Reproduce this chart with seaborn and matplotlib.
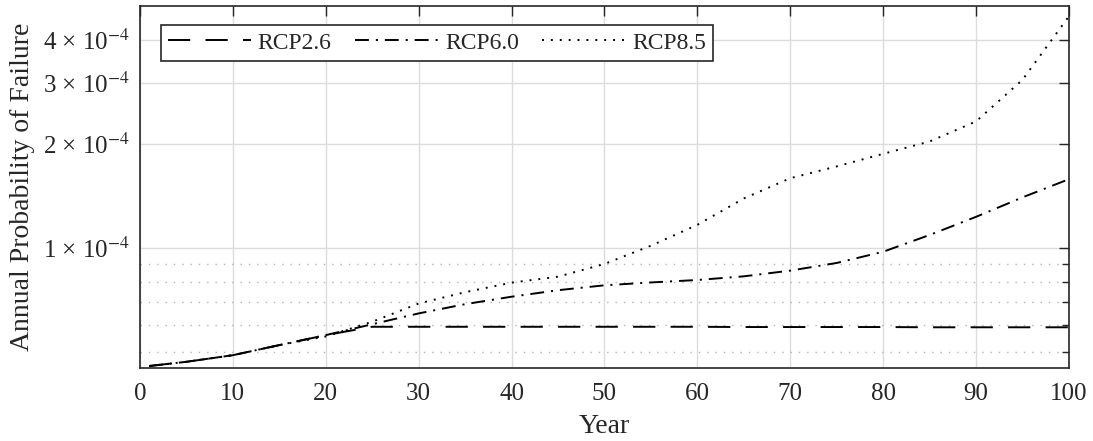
import numpy as np
import pandas as pd
import seaborn as sns
import matplotlib
matplotlib.use("Agg")
import matplotlib.pyplot as plt
from matplotlib.ticker import FixedLocator, FuncFormatter, NullFormatter

# values (annual probability of failure)
years = [1, 5, 10, 15, 20, 25, 30, 35, 40, 45, 50, 55, 60, 65, 70, 75, 80, 85, 90, 95, 100]
rcp26 = [4.56e-5, 4.69e-5, 4.90e-5, 5.24e-5, 5.60e-5, 5.92e-5, 5.92e-5, 5.92e-5, 5.92e-5, 5.92e-5,
         5.92e-5, 5.92e-5, 5.92e-5, 5.91e-5, 5.91e-5, 5.91e-5, 5.91e-5, 5.90e-5, 5.90e-5, 5.90e-5, 5.90e-5]
rcp60 = [4.56e-5, 4.69e-5, 4.90e-5, 5.24e-5, 5.60e-5, 6.02e-5, 6.47e-5, 6.88e-5, 7.23e-5, 7.55e-5,
         7.80e-5, 7.95e-5, 8.08e-5, 8.28e-5, 8.60e-5, 9.05e-5, 9.75e-5, 1.09e-4, 1.23e-4, 1.40e-4, 1.58e-4]
rcp85 = [4.56e-5, 4.69e-5, 4.90e-5, 5.24e-5, 5.55e-5, 6.12e-5, 6.91e-5, 7.45e-5, 7.94e-5, 8.26e-5,
         8.99e-5, 1.015e-4, 1.166e-4, 1.39e-4, 1.59e-4, 1.72e-4, 1.87e-4, 2.03e-4, 2.32e-4, 3.06e-4, 4.67e-4]
labels = ["RCP2.6", "RCP6.0", "RCP8.5"]

sns.set_style("white")
plt.rcParams["font.family"] = ["Liberation Serif", "DejaVu Serif"]
plt.rcParams["mathtext.fontset"] = "stix"
plt.rcParams["lines.scale_dashes"] = False

fig = plt.figure(figsize=(10.93, 4.41), dpi=100)
ax = fig.add_axes([0.128, 0.1655, 0.850, 0.821])

styles = [(0, (16, 11)), (0, (10, 5, 1.5, 5)), (0, (1.4, 5))]
for vals, lab, ls in zip([rcp26, rcp60, rcp85], labels, styles):
    sns.lineplot(x=years, y=vals, ax=ax, color="black", linewidth=1.4,
                 linestyle=ls, label=lab)

ax.set_yscale("log")
ax.set_xlim(0, 100)
ax.set_ylim(4.5e-5, 5.0e-4)
ax.set_xticks(range(0, 101, 10))
ax.yaxis.set_major_locator(FixedLocator([1e-4, 2e-4, 3e-4, 4e-4]))
ax.yaxis.set_minor_locator(FixedLocator([5e-5, 6e-5, 7e-5, 8e-5, 9e-5, 1e-4]))
ax.yaxis.set_major_formatter(FuncFormatter(lambda v, p: "%d × 10$^{-4}$" % round(v * 1e4)))
ax.yaxis.set_minor_formatter(NullFormatter())

ax.grid(True, which="major", color="#dcdcdc", linewidth=1.0, linestyle="-")
ax.grid(True, which="minor", axis="y", color="#b5b5b5", linewidth=1.0, linestyle=(0, (1, 5)))
ax.set_axisbelow(True)

ax.tick_params(which="both", direction="in", top=True, right=True, colors="#262626",
               labelsize=18, width=1.0)
ax.tick_params(which="major", length=7)
ax.tick_params(axis="x", which="major", pad=11)
ax.tick_params(axis="y", which="major", pad=7)
ax.tick_params(which="minor", length=5)
for s in ax.spines.values():
    s.set_color("#262626")
    s.set_linewidth(1.2)

ax.set_xlabel("Year", fontsize=20, color="#262626", labelpad=6)
ax.set_ylabel("Annual Probability of Failure", fontsize=20, color="#262626", labelpad=6)

leg = ax.legend(loc="upper left", ncol=3, fontsize=17, frameon=True, fancybox=False,
                edgecolor="#262626", framealpha=1, bbox_to_anchor=(0.0226, 0.9475),
                borderaxespad=0, handlelength=3.5, columnspacing=1.0, handletextpad=0.3,
                borderpad=0.3)
leg.get_frame().set_linewidth(1.2)

fig.savefig("out.png", dpi=100)
